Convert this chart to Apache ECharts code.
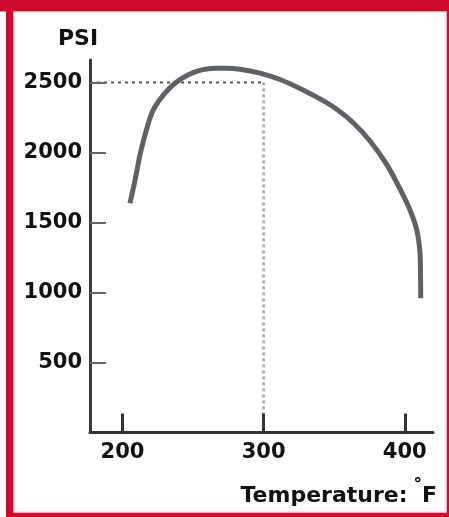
<!DOCTYPE html>
<html>
<head>
<meta charset="utf-8">
<script src="https://cdn.jsdelivr.net/npm/echarts@6/dist/echarts.min.js"></script>
<style>
html,body{margin:0;padding:0;background:#fff;}
#c{width:449px;height:517px;}
</style>
</head>
<body>
<div id="c"></div>
<script>
// ---- data ----
var temps = [205.3, 209.2, 212.4, 216.0, 219.5, 223.1, 230.1, 237.2, 246.7, 256.1, 265.6, 272.7, 283.3, 297.4, 311.6, 325.8, 340.0, 352.0, 363.3, 375.4, 387.4, 396.6, 403.7, 408.5, 410.8, 411.2, 411.3];
var psi   = [1637, 1816, 1982, 2125, 2244, 2327, 2423, 2494, 2554, 2589, 2601, 2601, 2594, 2566, 2521, 2457, 2382, 2307, 2214, 2082, 1911, 1739, 1589, 1446, 1280, 1089, 959];
var xTicks = [200, 300, 400];
var yTicks = [500, 1000, 1500, 2000, 2500];
var refTemp = 300;
var refPsi = 2500;
var xMin = 177, xMax = 420, yMin = 0, yMax = 2660;
var yName = 'PSI';
var xName = 'Temperature:';
var xUnit = '°';
var xUnit2 = 'F';

var curve = temps.map(function (t, i) { return [t, psi[i]]; });
var refH = [[xMin, refPsi], [refTemp, refPsi]];
var refV = [[refTemp, refPsi], [refTemp, yMin]];

var RED = '#cf0a2c';
var FONT = 'DejaVu Sans';

var chart = echarts.init(document.getElementById('c'), null, {renderer: 'canvas'});
chart.setOption({
  animation: false,
  backgroundColor: '#fff',
  grid: {left: 90, right: 16, top: 60, bottom: 84.5, containLabel: false, outerBoundsMode: 'none'},
  xAxis: {
    type: 'value', min: xMin, max: xMax,
    axisLine: {show: true, onZero: false, lineStyle: {color: '#333', width: 3}},
    axisTick: {show: true, inside: true, length: 19, customValues: xTicks, lineStyle: {color: '#333', width: 3}},
    axisLabel: {show: true, customValues: xTicks, margin: 10, color: '#111', fontFamily: FONT, fontWeight: 'bold', fontSize: 21,
      formatter: function (v) { return String(v); }},
    splitLine: {show: false}
  },
  yAxis: {
    type: 'value', min: yMin, max: yMax,
    axisLine: {show: true, onZero: false, lineStyle: {color: '#3a3a3a', width: 3}},
    axisTick: {show: true, inside: true, length: 16, customValues: yTicks, lineStyle: {color: '#666', width: 2}},
    axisLabel: {show: true, customValues: yTicks, margin: 8, color: '#111', fontFamily: FONT, fontWeight: 'bold', fontSize: 21,
      formatter: function (v) { return String(v); }},
    splitLine: {show: false}
  },
  series: [
    {
      type: 'line', data: refV, showSymbol: false, silent: true, z: -1,
      lineStyle: {color: '#b0b0b0', width: 3, type: [3, 3]}
    },
    {
      type: 'line', data: refH, showSymbol: false, silent: true, z: -1,
      lineStyle: {color: '#555', width: 2, type: [3, 4]}
    },
    {
      type: 'line', data: curve, smooth: 0.3, showSymbol: false, z: 3,
      lineStyle: {color: '#5e6267', width: 5, cap: 'butt'}
    }
  ],
  graphic: [
    {type: 'rect', shape: {x: 0, y: 0, width: 449, height: 11.5}, style: {fill: RED}, silent: true},
    {type: 'rect', shape: {x: 6, y: 0, width: 7.3, height: 517}, style: {fill: RED}, silent: true},
    {type: 'rect', shape: {x: 446.7, y: 0, width: 3, height: 517}, style: {fill: RED}, silent: true},
    {type: 'rect', shape: {x: 6, y: 512.7, width: 443, height: 5}, style: {fill: RED}, silent: true},
    {type: 'rect', shape: {x: 13.8, y: 12, width: 432.4, height: 500.2}, style: {fill: 'none', stroke: '#f3b3c0', lineWidth: 1}, silent: true},
    {
      type: 'text', x: 78, y: 39.5,
      style: {text: yName, fill: '#111', font: 'bold 22px "DejaVu Sans"', textAlign: 'center', textVerticalAlign: 'middle'}
    },
    {
      type: 'text', x: 437, y: 496,
      style: {
        text: '{a|' + xName + '}{s| }{d|' + xUnit + '}{a|' + xUnit2 + '}',
        textAlign: 'right', textVerticalAlign: 'middle',
        rich: {
          a: {fontFamily: FONT, fontWeight: 'bold', fontSize: 22, fill: '#111', color: '#111'},
          s: {fontFamily: FONT, fontWeight: 'bold', fontSize: 17},
          d: {fontFamily: FONT, fontWeight: 'bold', fontSize: 17, color: '#111', padding: [0, 0, 21, 0], verticalAlign: 'bottom'}
        }
      }
    }
  ]
});
</script>
</body>
</html>
